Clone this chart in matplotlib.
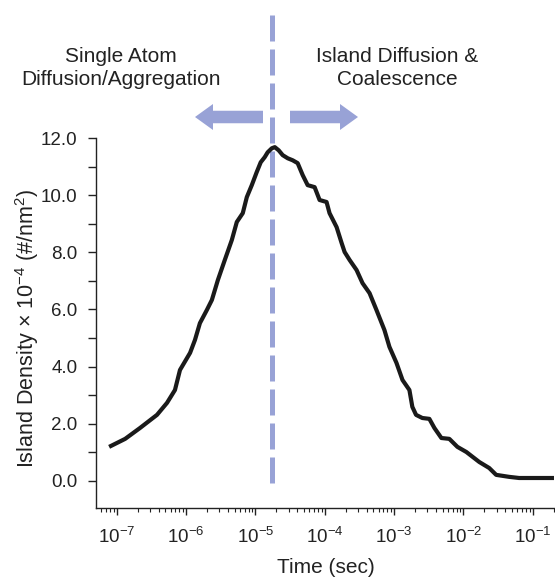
import matplotlib
matplotlib.use("Agg")
import matplotlib.pyplot as plt
import matplotlib.ticker as mticker
from matplotlib.patches import FancyArrow

plt.rcParams['font.family'] = ['Liberation Sans', 'DejaVu Sans']
plt.rcParams['mathtext.fontset'] = 'custom'
plt.rcParams['mathtext.rm'] = 'Liberation Sans'
plt.rcParams['mathtext.it'] = 'Liberation Sans:italic'
plt.rcParams['mathtext.bf'] = 'Liberation Sans:bold'
plt.rcParams['mathtext.default'] = 'regular'

# Data (time in seconds, island density x 1e-4 per nm^2)
time_s = [7.75e-8, 1.32e-7, 2.16e-7, 3.80e-7, 5.30e-7, 6.90e-7, 8.15e-7, 1.14e-6,
          1.34e-6, 1.58e-6, 1.99e-6, 2.35e-6, 2.87e-6, 3.61e-6, 4.56e-6, 5.38e-6,
          6.56e-6, 7.50e-6, 8.85e-6, 1.04e-5, 1.19e-5, 1.36e-5, 1.50e-5, 1.72e-5,
          1.90e-5, 2.16e-5, 2.47e-5, 2.92e-5, 3.44e-5, 4.06e-5, 4.80e-5, 5.66e-5,
          7.13e-5, 8.41e-5, 1.06e-4, 1.17e-4, 1.48e-4, 1.75e-4, 1.93e-4, 2.28e-4,
          2.87e-4, 3.50e-4, 4.42e-4, 5.56e-4, 7.24e-4, 8.55e-4, 1.08e-3, 1.32e-3,
          1.66e-3, 1.83e-3, 2.07e-3, 2.55e-3, 3.22e-3, 3.81e-3, 4.80e-3, 6.25e-3,
          8.17e-3, 1.10e-2, 1.69e-2, 2.35e-2, 2.96e-2, 4.56e-2, 6.35e-2, 0.202]
density = [1.19, 1.47, 1.85, 2.31, 2.73, 3.18, 3.88, 4.48,
           4.93, 5.52, 5.98, 6.33, 7.03, 7.73, 8.43, 9.06,
           9.37, 9.93, 10.35, 10.80, 11.15, 11.33, 11.50, 11.64,
           11.68, 11.57, 11.40, 11.29, 11.22, 11.12, 10.70, 10.35,
           10.28, 9.83, 9.76, 9.37, 8.88, 8.32, 8.01, 7.73,
           7.38, 6.92, 6.57, 5.98, 5.28, 4.69, 4.13, 3.53,
           3.18, 2.59, 2.31, 2.20, 2.17, 1.85, 1.50, 1.47,
           1.19, 1.01, 0.66, 0.45, 0.21, 0.14, 0.10, 0.10]
transition_time = 1.72e-5
x_ticks = [1e-7, 1e-6, 1e-5, 1e-4, 1e-3, 1e-2, 1e-1]
y_ticks = [0, 2, 4, 6, 8, 10, 12]
y_tick_labels = ['0.0', '2.0', '4.0', '6.0', '8.0', '10.0', '12.0']

W, H = 555, 581
fig = plt.figure(figsize=(W / 100, H / 100), dpi=100)
ax = fig.add_axes([96 / W, 1 - 508 / H, (555 - 96) / W, (508 - 138) / H])

ax.plot(time_s, density, color='#1a1a1a', lw=3.0, solid_joinstyle='round',
        solid_capstyle='butt', zorder=3)

ax.set_xscale('log')
ax.set_xlim(10 ** -7.30, 10 ** -0.68)
ax.set_ylim(-0.95, 12)

ax.set_yticks(y_ticks)
ax.set_yticklabels(y_tick_labels)
ax.yaxis.set_minor_locator(mticker.FixedLocator([1, 3, 5, 7, 9, 11]))
ax.xaxis.set_major_locator(mticker.FixedLocator(x_ticks))
ax.xaxis.set_minor_locator(mticker.LogLocator(base=10, subs=range(2, 10), numticks=20))
ax.xaxis.set_major_formatter(mticker.LogFormatterMathtext())

for s in ['top', 'right']:
    ax.spines[s].set_visible(False)
for s in ['left', 'bottom']:
    ax.spines[s].set_linewidth(1.0)
    ax.spines[s].set_color('#222222')

ax.tick_params(axis='y', which='major', direction='out', length=5.5, width=1,
               labelsize=13.5, pad=8, colors='#222222')
ax.tick_params(axis='y', which='minor', direction='out', length=5.5, width=1,
               colors='#222222')
ax.tick_params(axis='x', which='major', direction='out', length=5, width=1,
               labelsize=13.5, pad=8.5, colors='#222222')
ax.tick_params(axis='x', which='minor', direction='out', length=3, width=0.8,
               colors='#222222')

ax.set_xlabel('Time (sec)', fontsize=15, color='#222222')
ax.set_ylabel(r'Island Density $\times$ 10$^{-4}$ (#/nm$^{2}$)', fontsize=15.5,
              color='#222222')
ax.yaxis.set_label_coords((41 - 96) / 459, 0.486)
ax.xaxis.set_label_coords(0.5, (508 - 558) / 370)

blue = '#98a2d6'
# dashed transition line, extending above the axes
ax.axvline(transition_time, ymin=0.068, ymax=(508 - 12) / (508 - 138), color=blue,
           lw=3.6, ls=(0, (5.2, 1.6)), dash_capstyle='butt', clip_on=False, zorder=2)

# arrows (in inches from bottom-left)
tr = fig.dpi_scale_trans
ya = (H - 117) / 100
fig.patches.append(FancyArrow(263 / 100, ya, -(263 - 195) / 100, 0, width=0.125,
                              head_width=0.26, head_length=0.18,
                              length_includes_head=True, color=blue, lw=0,
                              transform=tr, figure=fig))
fig.patches.append(FancyArrow(290 / 100, ya, (358 - 290) / 100, 0, width=0.125,
                              head_width=0.26, head_length=0.18,
                              length_includes_head=True, color=blue, lw=0,
                              transform=tr, figure=fig))

fig.text(121 / W, 1 - 68 / H, 'Single Atom\nDiffusion/Aggregation', ha='center',
         va='center', fontsize=15, linespacing=1.3, color='#222222')
fig.text(397 / W, 1 - 68 / H, 'Island Diffusion &\nCoalescence', ha='center',
         va='center', fontsize=15, linespacing=1.3, color='#222222')

fig.savefig('out.png', dpi=100)
